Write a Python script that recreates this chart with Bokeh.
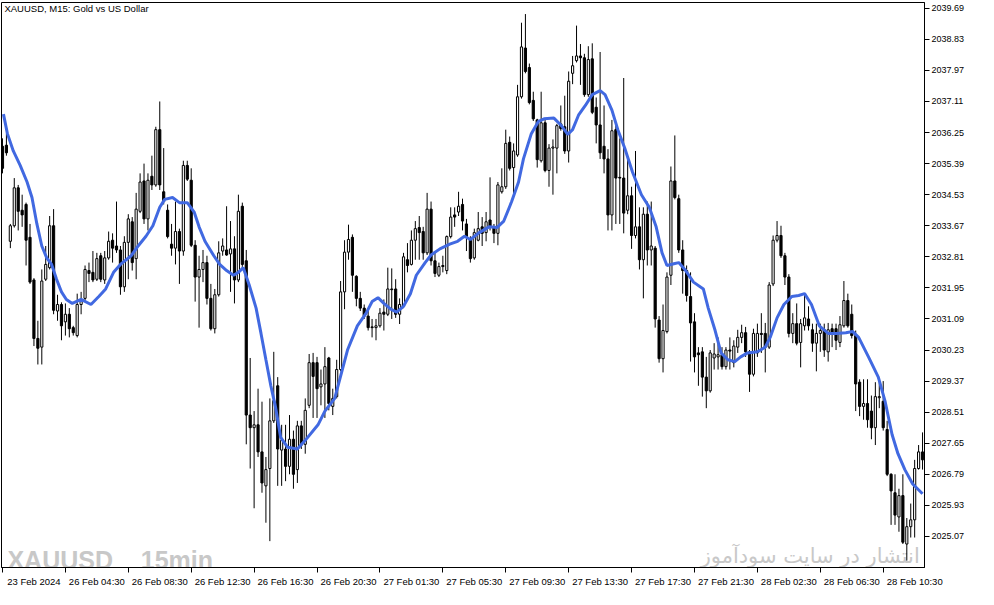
from bokeh.plotting import figure
from bokeh.models import ColumnDataSource, Range1d, FixedTicker, Label, PrintfTickFormatter
from bokeh.embed import file_html
from bokeh.resources import INLINE

opens = [2035.87, 2035.90, 2033.24, 2033.67, 2034.72, 2034.10, 2034.26, 2033.35, 2032.17, 2030.55,
         2030.31, 2032.19, 2032.51, 2033.67, 2031.31, 2031.49, 2031.01, 2031.22, 2030.85, 2030.63,
         2031.49, 2031.66, 2032.43, 2032.38, 2032.19, 2032.84, 2032.17, 2032.78, 2033.27, 2033.11,
         2033.00, 2031.98, 2033.21, 2033.78, 2032.76, 2034.07, 2034.91, 2033.86, 2035.04, 2034.80,
         2036.33, 2034.61, 2034.10, 2033.16, 2033.05, 2033.51, 2032.97, 2035.34, 2034.93, 2033.13,
         2032.25, 2032.46, 2032.65, 2031.66, 2030.82, 2031.76, 2032.97, 2033.00, 2032.89, 2033.03,
         2032.17, 2034.21, 2032.70, 2028.43, 2028.08, 2028.16, 2027.41, 2026.47, 2026.95, 2028.27,
         2029.24, 2027.46, 2027.49, 2027.01, 2027.76, 2026.92, 2028.13, 2027.62, 2028.70, 2029.88,
         2029.88, 2029.21, 2029.29, 2030.01, 2028.67, 2028.94, 2029.69, 2031.84, 2032.94, 2033.35,
         2032.27, 2031.66, 2031.39, 2031.17, 2030.87, 2030.85, 2030.90, 2031.28, 2031.22, 2031.92,
         2031.92, 2031.22, 2031.44, 2032.73, 2032.60, 2033.27, 2033.62, 2033.51, 2032.92, 2034.13,
         2032.70, 2032.30, 2032.57, 2032.43, 2033.37, 2033.97, 2034.05, 2034.26, 2033.72, 2033.29,
         2032.78, 2033.27, 2033.64, 2033.48, 2033.83, 2033.64, 2033.46, 2034.61, 2034.75, 2035.98,
         2035.28, 2035.63, 2037.24, 2038.59, 2038.05, 2037.14, 2036.60, 2035.47, 2036.52, 2035.20,
         2035.82, 2035.82, 2036.49, 2036.41, 2035.74, 2037.89, 2038.24, 2038.37, 2038.32, 2037.30,
         2038.29, 2036.95, 2036.46, 2035.87, 2035.52, 2033.97, 2036.33, 2035.01, 2034.99, 2034.10,
         2034.50, 2033.40, 2033.64, 2032.73, 2033.99, 2033.00, 2033.05, 2031.06, 2029.99, 2030.74,
         2032.30, 2034.91, 2034.42, 2033.00, 2032.43, 2031.71, 2031.01, 2030.15, 2030.18, 2029.48,
         2029.10, 2030.01, 2030.04, 2030.10, 2029.77, 2030.23, 2029.88, 2030.31, 2030.58, 2030.71,
         2030.18, 2029.56, 2030.15, 2030.69, 2030.69, 2030.31, 2032.06, 2033.27, 2033.40, 2032.84,
         2032.25, 2030.69, 2030.96, 2030.44, 2030.90, 2031.09, 2030.79, 2030.42, 2030.69, 2030.79,
         2030.18, 2030.82, 2030.82, 2030.44, 2030.90, 2031.60, 2031.22, 2030.63, 2029.34, 2028.67,
         2028.75, 2028.54, 2028.08, 2028.91, 2028.81, 2028.03, 2026.79, 2026.28, 2025.61, 2026.20,
         2024.86, 2025.34, 2025.53, 2026.95, 2027.41]

highs = [2036.09, 2036.22, 2033.72, 2034.99, 2034.80, 2034.53, 2034.31, 2033.72, 2032.22, 2031.04,
         2032.46, 2033.11, 2033.94, 2034.13, 2031.76, 2031.55, 2031.52, 2031.39, 2030.90, 2031.79,
         2031.84, 2032.57, 2032.65, 2032.97, 2032.92, 2032.92, 2032.97, 2033.51, 2033.46, 2034.34,
         2033.11, 2033.38, 2033.99, 2033.91, 2034.58, 2035.12, 2035.39, 2035.12, 2035.61, 2036.41,
         2037.11, 2035.82, 2034.26, 2033.72, 2034.34, 2033.59, 2035.47, 2035.47, 2035.26, 2033.27,
         2032.84, 2033.00, 2032.84, 2032.06, 2031.92, 2033.24, 2033.32, 2034.21, 2033.80, 2033.38,
         2034.53, 2034.31, 2033.00, 2030.01, 2028.54, 2029.16, 2028.80, 2027.27, 2028.89, 2030.18,
         2029.48, 2028.16, 2028.16, 2028.43, 2028.00, 2028.27, 2028.27, 2028.89, 2030.12, 2030.15,
         2030.04, 2029.69, 2030.31, 2030.04, 2029.16, 2029.96, 2032.14, 2033.27, 2033.70, 2033.43,
         2032.30, 2031.84, 2031.49, 2031.31, 2031.09, 2031.09, 2031.39, 2031.63, 2032.51, 2032.49,
         2032.19, 2031.66, 2032.92, 2033.19, 2033.54, 2033.80, 2033.94, 2033.64, 2034.58, 2034.34,
         2032.92, 2032.65, 2032.84, 2033.40, 2034.18, 2034.18, 2034.61, 2034.42, 2033.86, 2033.38,
         2033.59, 2034.05, 2033.91, 2034.05, 2035.01, 2033.72, 2034.88, 2035.26, 2036.33, 2036.14,
         2035.95, 2037.57, 2039.29, 2039.53, 2038.16, 2037.38, 2036.63, 2037.38, 2036.63, 2035.93,
         2036.06, 2036.49, 2037.00, 2037.27, 2037.94, 2038.37, 2039.21, 2038.70, 2038.43, 2038.64,
         2038.72, 2037.22, 2038.48, 2037.00, 2035.79, 2036.60, 2036.46, 2036.09, 2037.76, 2035.52,
         2034.75, 2035.74, 2034.18, 2034.18, 2034.34, 2034.34, 2033.11, 2031.17, 2031.49, 2032.38,
         2035.31, 2036.17, 2034.53, 2033.27, 2032.57, 2032.38, 2031.25, 2030.31, 2030.31, 2030.04,
         2030.23, 2030.42, 2030.58, 2030.31, 2030.31, 2030.58, 2030.50, 2030.79, 2030.93, 2030.87,
         2030.23, 2030.82, 2030.96, 2031.25, 2030.98, 2032.11, 2033.40, 2033.80, 2033.67, 2032.92,
         2032.33, 2031.25, 2031.52, 2031.09, 2031.76, 2031.44, 2030.96, 2030.96, 2030.96, 2030.96,
         2030.98, 2030.96, 2030.96, 2031.17, 2032.14, 2031.79, 2031.49, 2030.77, 2029.42, 2029.42,
         2029.42, 2028.97, 2029.34, 2029.42, 2029.37, 2028.27, 2026.82, 2026.79, 2026.39, 2026.79,
         2025.58, 2025.98, 2027.19, 2027.60, 2027.95]

lows = [2035.12, 2035.61, 2033.05, 2033.62, 2033.54, 2033.64, 2032.57, 2032.06, 2030.34, 2029.83,
        2029.83, 2032.14, 2032.46, 2031.22, 2031.04, 2030.50, 2030.63, 2030.58, 2030.63, 2030.58,
        2031.22, 2031.60, 2032.11, 2032.11, 2032.14, 2032.11, 2032.06, 2032.73, 2032.65, 2032.92,
        2031.76, 2031.84, 2032.19, 2032.43, 2032.19, 2034.02, 2033.72, 2033.54, 2034.66, 2034.75,
        2034.66, 2034.26, 2033.32, 2032.84, 2032.60, 2032.06, 2032.84, 2034.91, 2033.08, 2031.57,
        2030.85, 2032.11, 2031.49, 2030.77, 2030.69, 2031.71, 2032.84, 2032.84, 2031.84, 2031.52,
        2032.11, 2032.51, 2027.62, 2026.95, 2025.85, 2027.27, 2026.28, 2025.45, 2024.94, 2028.21,
        2026.47, 2026.47, 2026.60, 2026.79, 2026.39, 2026.55, 2027.49, 2027.36, 2028.62, 2028.35,
        2028.35, 2028.70, 2028.35, 2028.56, 2028.43, 2028.89, 2029.64, 2031.36, 2032.73, 2031.84,
        2031.44, 2031.31, 2031.09, 2030.77, 2030.58, 2030.50, 2030.85, 2030.77, 2031.17, 2031.09,
        2031.12, 2030.95, 2031.39, 2032.38, 2032.57, 2032.73, 2032.73, 2032.73, 2032.86, 2032.57,
        2032.25, 2032.25, 2032.38, 2032.33, 2033.32, 2033.64, 2033.94, 2033.54, 2032.97, 2032.65,
        2032.73, 2033.24, 2033.11, 2033.24, 2033.54, 2033.19, 2033.13, 2034.56, 2034.69, 2035.20,
        2034.53, 2035.58, 2037.19, 2037.89, 2037.03, 2036.57, 2035.28, 2035.42, 2035.15, 2034.75,
        2034.53, 2035.12, 2036.30, 2035.66, 2035.42, 2037.59, 2038.19, 2037.57, 2037.24, 2037.24,
        2036.76, 2035.95, 2035.52, 2035.12, 2033.54, 2033.54, 2033.72, 2033.72, 2033.46, 2033.99,
        2033.03, 2033.32, 2032.46, 2031.66, 2032.57, 2032.57, 2030.85, 2029.88, 2029.61, 2030.69,
        2032.03, 2034.40, 2032.92, 2031.79, 2031.57, 2029.91, 2029.61, 2029.24, 2028.94, 2028.62,
        2029.05, 2029.69, 2029.69, 2029.69, 2029.69, 2029.69, 2029.75, 2030.15, 2030.42, 2030.04,
        2029.07, 2029.50, 2030.04, 2030.15, 2029.61, 2030.26, 2032.00, 2033.21, 2032.78, 2032.03,
        2030.58, 2030.42, 2030.36, 2029.75, 2030.77, 2030.77, 2030.18, 2029.64, 2030.18, 2030.04,
        2029.91, 2030.31, 2030.23, 2030.31, 2030.85, 2030.85, 2030.55, 2028.54, 2028.40, 2028.30,
        2028.08, 2027.76, 2027.60, 2028.62, 2028.00, 2026.74, 2025.39, 2025.39, 2025.20, 2024.86,
        2024.40, 2025.04, 2025.04, 2026.92, 2026.92]

closes = [2035.26, 2035.69, 2033.67, 2034.72, 2034.07, 2033.97, 2033.27, 2032.11, 2030.55, 2030.28,
          2032.14, 2032.60, 2033.67, 2031.33, 2031.49, 2030.90, 2031.22, 2030.82, 2030.71, 2031.49,
          2031.63, 2032.46, 2032.35, 2032.17, 2032.76, 2032.19, 2032.78, 2033.24, 2033.05, 2033.00,
          2031.98, 2033.21, 2033.86, 2032.65, 2034.13, 2034.88, 2033.86, 2034.93, 2034.80, 2036.33,
          2034.80, 2034.34, 2033.37, 2033.05, 2033.51, 2032.97, 2035.34, 2034.96, 2033.13, 2032.25,
          2032.46, 2032.65, 2031.66, 2030.82, 2031.76, 2032.92, 2033.11, 2032.86, 2033.03, 2032.17,
          2034.07, 2032.60, 2028.43, 2028.08, 2028.16, 2027.41, 2026.55, 2026.92, 2028.27, 2028.83,
          2027.49, 2027.73, 2027.01, 2027.76, 2026.79, 2028.13, 2027.60, 2028.56, 2029.88, 2029.50,
          2029.16, 2029.29, 2029.77, 2028.75, 2028.89, 2029.69, 2031.84, 2032.94, 2033.29, 2032.30,
          2031.66, 2031.39, 2031.17, 2030.85, 2030.85, 2030.90, 2031.25, 2031.22, 2031.92, 2031.90,
          2031.22, 2031.49, 2032.81, 2032.57, 2033.27, 2033.59, 2033.48, 2032.92, 2034.13, 2032.70,
          2032.35, 2032.54, 2032.54, 2033.37, 2033.91, 2033.91, 2034.21, 2033.80, 2033.37, 2032.76,
          2033.48, 2033.59, 2033.46, 2033.78, 2033.64, 2033.46, 2034.80, 2034.75, 2035.95, 2035.26,
          2035.74, 2037.24, 2038.62, 2037.94, 2037.08, 2036.63, 2035.50, 2036.52, 2035.20, 2035.82,
          2035.85, 2036.44, 2036.36, 2035.74, 2037.67, 2038.10, 2038.37, 2038.32, 2037.30, 2038.27,
          2036.81, 2036.46, 2035.69, 2035.52, 2033.97, 2036.30, 2034.99, 2034.99, 2034.02, 2034.50,
          2033.40, 2033.64, 2032.73, 2033.99, 2033.00, 2033.11, 2031.09, 2029.99, 2030.77, 2032.25,
          2034.91, 2034.45, 2033.00, 2032.43, 2031.74, 2030.98, 2030.04, 2030.10, 2029.48, 2029.10,
          2030.15, 2030.12, 2030.10, 2029.77, 2030.23, 2030.20, 2030.34, 2030.58, 2030.71, 2030.18,
          2029.56, 2030.69, 2030.69, 2030.66, 2030.31, 2032.03, 2033.27, 2033.40, 2032.84, 2032.25,
          2030.69, 2030.96, 2030.42, 2030.96, 2031.12, 2030.90, 2030.42, 2030.69, 2030.77, 2030.23,
          2030.79, 2030.69, 2030.50, 2030.93, 2031.60, 2030.90, 2030.63, 2029.29, 2028.67, 2028.75,
          2028.30, 2028.08, 2028.94, 2028.94, 2028.08, 2026.79, 2026.33, 2025.66, 2026.20, 2024.91,
          2025.34, 2025.53, 2026.95, 2027.41, 2027.19]

# moving average line, sampled (bar index, price)
ma_bar = [0.25, 1.25, 2.75, 4.5, 6.25, 7.5, 8.75, 10, 11.25, 12.5, 13.75, 15, 16.25, 17.75, 20, 22.5,
          24.5, 26.25, 28.25, 30, 32.75, 34.5, 36.5, 38.25, 40, 41.25, 43.25, 45, 47, 48.75, 50, 51.5,
          53.75, 55.25, 57, 58.75, 60, 61.25, 62.75, 64.5, 65.75, 67, 68.25, 69.5, 70.75, 72.5, 75, 77,
          80.25, 82, 84.5, 86.25, 87.75, 90.25, 92.5, 94, 95.5, 97, 98.75, 100.25, 102, 103.75, 105.25,
          107.5, 109, 111.25, 113.75, 115.75, 117.5, 119, 121.25, 123.75, 125.75, 127.5, 129.5, 131.25,
          132.5, 134.5, 136.25, 137.75, 140.25, 142, 143.75, 145, 146.5, 148.25, 150, 152, 153.25, 155,
          156.5, 158.25, 160.25, 162.5, 164.5, 166.25, 167.75, 169, 170.75, 172, 173.75, 175.75, 178.25,
          179.5, 181.25, 182.75, 184.5, 186.25, 187.75, 189.5, 192, 194, 195.25, 197, 198.75, 200.75,
          202.5, 204, 205.75, 207.75, 210, 212, 214.5, 216.25, 217.75, 220.25, 222.75, 224.5, 226.25,
          227.75, 229.5, 231.5, 234]
ma_val = [2036.76, 2036.22, 2035.74, 2035.34, 2034.88, 2034.45, 2033.72, 2033.11, 2032.78, 2032.60,
          2032.19, 2031.84, 2031.63, 2031.52, 2031.63, 2031.49, 2031.71, 2031.92, 2032.38, 2032.60,
          2032.84, 2033.11, 2033.38, 2033.67, 2034.18, 2034.40, 2034.45, 2034.31, 2034.31, 2034.05,
          2033.64, 2033.24, 2032.84, 2032.60, 2032.43, 2032.30, 2032.38, 2032.51, 2032.03, 2031.39,
          2030.69, 2029.96, 2029.24, 2028.62, 2027.81, 2027.54, 2027.49, 2027.73, 2028.16, 2028.54,
          2028.89, 2029.61, 2030.23, 2030.90, 2031.25, 2031.57, 2031.68, 2031.52, 2031.36, 2031.28,
          2031.44, 2031.79, 2032.30, 2032.65, 2032.86, 2033.03, 2033.16, 2033.24, 2033.38, 2033.29,
          2033.48, 2033.64, 2033.62, 2033.80, 2034.34, 2034.88, 2035.52, 2036.22, 2036.55, 2036.63,
          2036.65, 2036.46, 2036.20, 2036.33, 2036.73, 2037.00, 2037.30, 2037.41, 2037.30, 2036.87,
          2036.33, 2035.82, 2035.15, 2034.53, 2034.18, 2033.64, 2032.92, 2032.57, 2032.62, 2032.65,
          2032.43, 2032.11, 2031.92, 2031.39, 2030.77, 2030.15, 2029.96, 2029.91, 2030.04, 2030.15,
          2030.18, 2030.31, 2030.58, 2031.12, 2031.49, 2031.71, 2031.74, 2031.79, 2031.49, 2030.90,
          2030.69, 2030.69, 2030.71, 2030.74, 2030.58, 2030.04, 2029.48, 2028.80, 2027.89, 2027.36,
          2026.92, 2026.52, 2026.25]

y_ticks = [2025.07, 2025.93, 2026.79, 2027.65, 2028.51, 2029.37, 2030.23, 2031.09, 2031.95,
           2032.81, 2033.67, 2034.53, 2035.39, 2036.25, 2037.11, 2037.97, 2038.83, 2039.69]
x_tick_bars = [0, 16, 32, 48, 64, 80, 96, 112, 128, 144, 160, 176, 192, 208, 224]
x_tick_labels = ["23 Feb 2024", "26 Feb 04:30", "26 Feb 08:30", "26 Feb 12:30", "26 Feb 16:30",
                 "26 Feb 20:30", "27 Feb 01:30", "27 Feb 05:30", "27 Feb 09:30", "27 Feb 13:30",
                 "27 Feb 17:30", "27 Feb 21:30", "28 Feb 02:30", "28 Feb 06:30", "28 Feb 10:30"]

title_text = "XAUUSD, M15:  Gold vs US Dollar"
mark_left = "XAUUSD _ 15min"
mark_right = "انتشار در سایت سودآموز"

n = len(opens)
src = ColumnDataSource(dict(
    x=list(range(n)),
    high=highs, low=lows,
    top=[max(o, c) for o, c in zip(opens, closes)],
    bottom=[min(o, c) for o, c in zip(opens, closes)],
    fill=["white" if c >= o else "black" for o, c in zip(opens, closes)],
))

p = figure(width=978, height=589, output_backend="svg", toolbar_location=None,
           x_range=Range1d(-0.25, 234.5), y_range=Range1d(2024.21, 2039.85),
           y_axis_location="right",
           min_border_left=1, min_border_top=2, min_border_right=54, min_border_bottom=21)
p.background_fill_color = "white"
p.border_fill_color = "white"
p.outline_line_color = "black"
p.outline_line_width = 1
p.outline_line_alpha = 1
p.xgrid.visible = False
p.ygrid.visible = False

font = "Liberation Sans"

ya = p.yaxis[0]
ya.ticker = FixedTicker(ticks=y_ticks)
ya.formatter = PrintfTickFormatter(format="%.2f")
ya.major_tick_in = 0
ya.major_tick_out = 5
ya.minor_tick_line_color = None
ya.axis_line_color = "black"
ya.major_tick_line_color = "black"
ya.major_label_text_font = font
ya.major_label_text_font_size = "9px"
ya.major_label_text_color = "black"
ya.major_label_standoff = 2

xa = p.xaxis[0]
shift = 8
xa.ticker = FixedTicker(ticks=[t + shift for t in x_tick_bars], minor_ticks=x_tick_bars)
xa.major_label_overrides = {t + shift: lab for t, lab in zip(x_tick_bars, x_tick_labels)}
xa.major_tick_line_color = None
xa.major_tick_in = 0
xa.major_tick_out = 0
xa.minor_tick_in = 0
xa.minor_tick_out = 5
xa.minor_tick_line_color = "black"
xa.axis_line_color = "black"
xa.major_label_text_font = font
xa.major_label_text_font_size = "9.5px"
xa.major_label_text_color = "black"
xa.major_label_standoff = 3

# watermarks (behind candles)
p.add_layout(Label(x=1.25, y=2024.43, text=mark_left, text_font="Liberation Sans",
                   text_font_size="25px", text_font_style="bold", text_color="#c8c8c8",
                   text_baseline="alphabetic", level="underlay"))
p.add_layout(Label(x=233.3, y=2024.52, text=mark_right, text_font="DejaVu Sans",
                   text_font_size="21px", text_color="#c8c8c8", text_align="right",
                   text_baseline="alphabetic", level="underlay"))

p.segment(x0="x", y0="high", x1="x", y1="low", source=src, line_color="black", line_width=1)
p.vbar(x="x", width=0.55, top="top", bottom="bottom", source=src,
       fill_color="fill", line_color="black", line_width=1)
p.line(ma_bar, ma_val, line_color="#4169E1", line_width=3)

p.add_layout(Label(x=0.5, y=2039.69, text=title_text, text_font=font, text_font_size="9.5px",
                   text_color="black", text_baseline="middle"))

open("out.html", "w").write(file_html(p, INLINE))
